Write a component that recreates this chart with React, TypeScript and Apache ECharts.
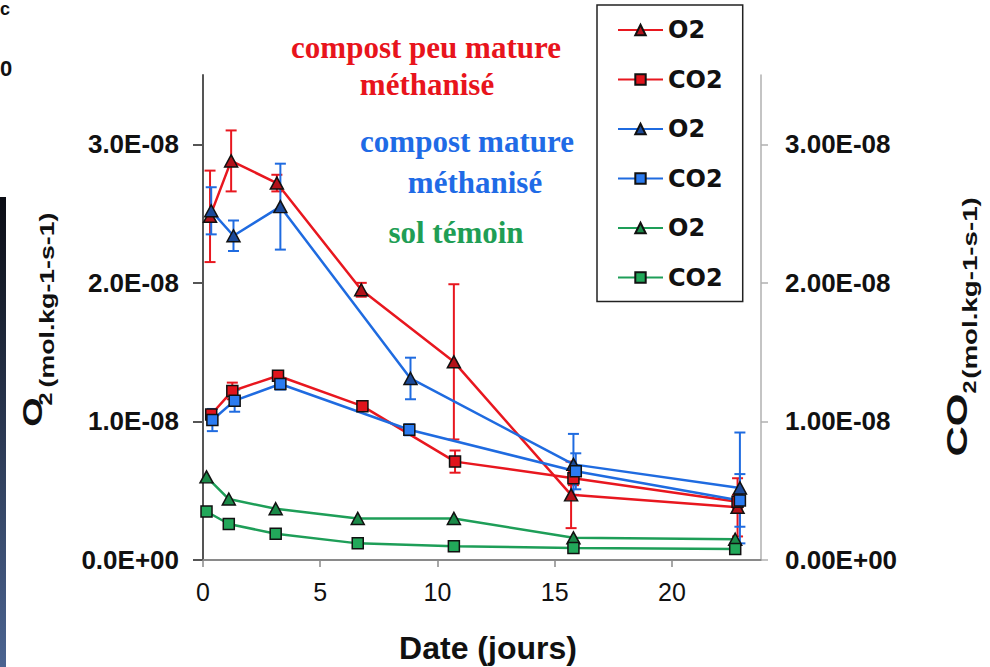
import React, { useEffect, useRef } from "react";
import * as echarts from "echarts";

const E = 1e-8;
const xTicks = [0, 5, 10, 15, 20];
const yTicks = [0, 1, 2, 3];

// compost peu mature méthanisé (red)
const redO2X = [0.3, 1.2, 3.15, 6.75, 10.7, 15.7, 22.8];
const redO2 = [2.48, 2.88, 2.72, 1.95, 1.43, 0.47, 0.38];
const redO2Err = [0.33, 0.22, 0.06, 0.05, 0.56, 0.24, 0.21];
const redCO2X = [0.35, 1.25, 3.2, 6.8, 10.75, 15.8, 22.8];
const redCO2 = [1.05, 1.22, 1.33, 1.11, 0.71, 0.59, 0.42];
const redCO2Err = [0.03, 0.06, 0.03, 0.02, 0.08, 0.05, 0.05];

// compost mature méthanisé (blue)
const blueO2X = [0.35, 1.3, 3.3, 8.85, 15.8, 22.9];
const blueO2 = [2.52, 2.34, 2.55, 1.31, 0.69, 0.52];
const blueO2Err = [0.17, 0.11, 0.31, 0.15, 0.22, 0.4];
const blueCO2X = [0.4, 1.35, 3.3, 8.8, 15.9, 22.9];
const blueCO2 = [1.01, 1.15, 1.27, 0.94, 0.64, 0.43];
const blueCO2Err = [0.08, 0.08, 0.04, 0.04, 0.13, 0.19];

// sol témoin (green)
const greenX = [0.15, 1.1, 3.1, 6.6, 10.7, 15.8, 22.7];
const greenO2 = [0.6, 0.44, 0.37, 0.3, 0.3, 0.16, 0.15];
const greenCO2 = [0.35, 0.26, 0.19, 0.12, 0.1, 0.087, 0.08];

const legendNames = ["O2", "CO2", "O2 ", "CO2 ", "O2  ", "CO2  "];

const RED = "#e8171f";
const BLUE = "#1f6be0";
const GREEN = "#1e9e58";

function lineSeries(name: string, xs: number[], ys: number[], color: string, symbol: string, fill: string, yAxisIndex: number) {
  return {
    type: "line",
    name,
    yAxisIndex,
    data: xs.map((x, i) => [x, ys[i] * E]),
    symbol,
    symbolSize: symbol === "triangle" ? [13, 12] : 11,
    showSymbol: true,
    lineStyle: { color, width: 2.5 },
    itemStyle: { color: fill, borderColor: "#111", borderWidth: 1.5 },
    z: 3,
    emphasis: { disabled: true },
    silent: true,
  };
}

function errSeries(xs: number[], ys: number[], errs: number[], color: string, yAxisIndex: number) {
  return {
    type: "custom",
    yAxisIndex,
    z: 2,
    silent: true,
    data: xs.map((x, i) => [x, (ys[i] - errs[i]) * E, (ys[i] + errs[i]) * E]),
    encode: { x: 0, y: [1, 2] },
    renderItem: (params: any, api: any) => {
      const x = api.value(0);
      const lo = api.coord([x, api.value(1)]);
      const hi = api.coord([x, api.value(2)]);
      const w = 5.5;
      const st = { stroke: color, lineWidth: 2 };
      return {
        type: "group",
        children: [
          { type: "line", shape: { x1: lo[0], y1: lo[1], x2: hi[0], y2: hi[1] }, style: st },
          { type: "line", shape: { x1: lo[0] - w, y1: lo[1], x2: lo[0] + w, y2: lo[1] }, style: st },
          { type: "line", shape: { x1: hi[0] - w, y1: hi[1], x2: hi[0] + w, y2: hi[1] }, style: st },
        ],
      };
    },
  };
}

function fmt(v: number, digits: number) {
  const m = v / E;
  if (Math.abs(m) < 1e-9) return (0).toFixed(digits) + "E+00";
  return m.toFixed(digits) + "E-08";
}

export default function App() {
  const ref = useRef<HTMLDivElement>(null);
  useEffect(() => {
    if (!ref.current) return;
    const chart = echarts.init(ref.current, null, { renderer: "svg" });
    const sans = "Liberation Sans";
    const serif = "Liberation Serif";
    const tickVals = yTicks.map((t) => t * E);
    const rot = (text: string, x: number, y: number, size: number, stretch: number) => ({
      type: "text",
      x,
      y,
      rotation: Math.PI / 2,
      scaleX: stretch,
      style: { text, font: `bold ${size}px ${sans}`, fill: "#111", align: "center", verticalAlign: "middle" },
      silent: true,
    });
    const option: any = {
      animation: false,
      backgroundColor: "#fff",
      grid: { left: 203, right: 229, top: 75, bottom: 107, containLabel: false },
      xAxis: {
        type: "value",
        min: 0,
        max: 23.8,
        interval: 5,
        axisLine: { show: true, lineStyle: { color: "#8a8a8a", width: 2 } },
        axisTick: { show: true, length: 7, lineStyle: { color: "#8a8a8a", width: 1.5 }, customValues: xTicks },
        axisLabel: { fontFamily: sans, fontSize: 25, color: "#111", margin: 19, customValues: xTicks },
        splitLine: { show: false },
      },
      yAxis: [
        {
          type: "value",
          min: 0,
          max: 3.5 * E,
          interval: E,
          position: "left",
          axisLine: { show: true, lineStyle: { color: "#555", width: 2 } },
          axisTick: { show: true, length: 10, lineStyle: { color: "#555", width: 2 }, customValues: tickVals },
          axisLabel: {
            fontFamily: sans,
            fontWeight: "bold",
            fontSize: 26,
            color: "#111",
            margin: 24,
            customValues: tickVals,
            formatter: (v: number) => fmt(v, 1),
          },
          splitLine: { show: false },
        },
        {
          type: "value",
          min: 0,
          max: 3.5 * E,
          interval: E,
          position: "right",
          axisLine: { show: true, lineStyle: { color: "#b0b0b0", width: 1.5 } },
          axisTick: { show: true, length: 7, lineStyle: { color: "#b0b0b0", width: 1.5 }, customValues: tickVals },
          axisLabel: {
            fontFamily: sans,
            fontWeight: "bold",
            fontSize: 26,
            color: "#111",
            margin: 24,
            customValues: tickVals,
            formatter: (v: number) => fmt(v, 2),
          },
          splitLine: { show: false },
        },
      ],
      legend: {
        orient: "vertical",
        left: 597,
        top: 5,
        padding: [13, 20, 12, 20],
        itemGap: 25.5,
        itemWidth: 45,
        itemHeight: 13,
        borderColor: "#222",
        borderWidth: 1.5,
        backgroundColor: "#fff",
        selectedMode: false,
        textStyle: { fontFamily: "DejaVu Sans", fontWeight: "bold", fontSize: 24, lineHeight: 24, color: "#111" },
        formatter: (n: string) => n.trim(),
        data: legendNames,
      },
      series: [
        errSeries(redO2X, redO2, redO2Err, RED, 0),
        errSeries(redCO2X, redCO2, redCO2Err, RED, 1),
        errSeries(blueO2X, blueO2, blueO2Err, BLUE, 0),
        errSeries(blueCO2X, blueCO2, blueCO2Err, BLUE, 1),
        lineSeries(legendNames[0], redO2X, redO2, RED, "triangle", "#b3121a", 0),
        lineSeries(legendNames[1], redCO2X, redCO2, RED, "rect", "#e0141c", 1),
        lineSeries(legendNames[2], blueO2X, blueO2, BLUE, "triangle", "#1b4a9a", 0),
        lineSeries(legendNames[3], blueCO2X, blueCO2, BLUE, "rect", "#2b7bf0", 1),
        lineSeries(legendNames[4], greenX, greenO2, GREEN, "triangle", "#1a8a48", 0),
        lineSeries(legendNames[5], greenX, greenCO2, GREEN, "rect", "#22a85a", 1),
      ],
      graphic: [
        {
          type: "rect",
          left: 0,
          top: 197,
          shape: { width: 6, height: 470 },
          style: {
            fill: new echarts.graphic.LinearGradient(0, 0, 0, 1, [
              { offset: 0, color: "#0b0d14" },
              { offset: 1, color: "#4b6491" },
            ]),
          },
          silent: true,
        },
        { type: "text", x: 0, y: 0, style: { text: "c", fontSize: 18, fontWeight: "bold", fontFamily: sans, fill: "#111" }, silent: true },
        { type: "text", x: 0, y: 57, style: { text: "0", fontSize: 22, fontWeight: "bold", fontFamily: sans, fill: "#111" }, silent: true },
        // annotations
        { type: "text", x: 426, y: 47, style: { text: "compost peu mature", font: `bold 31px ${serif}`, fill: "#e8141c", align: "center", verticalAlign: "middle" }, silent: true },
        { type: "text", x: 427, y: 84, style: { text: "méthanisé", font: `bold 31px ${serif}`, fill: "#e8141c", align: "center", verticalAlign: "middle" }, silent: true },
        { type: "text", x: 467, y: 141, style: { text: "compost mature", font: `bold 31px ${serif}`, fill: "#1f6be6", align: "center", verticalAlign: "middle" }, silent: true },
        { type: "text", x: 475, y: 182, style: { text: "méthanisé", font: `bold 31px ${serif}`, fill: "#1f6be6", align: "center", verticalAlign: "middle" }, silent: true },
        { type: "text", x: 456, y: 232, style: { text: "sol témoin", font: `bold 31px ${serif}`, fill: "#1f9e55", align: "center", verticalAlign: "middle" }, silent: true },
        // x axis title
        { type: "text", x: 488, y: 648, style: { text: "Date (jours)", font: `bold 32px ${sans}`, fill: "#111", align: "center", verticalAlign: "middle" }, silent: true },
        // left axis title
        rot("O", 32, 412, 28, 1.35),
        rot("2", 46, 399, 18, 1.3),
        rot("(mol.kg-1-s-1)", 47, 300, 21, 1.27),
        // right axis title
        rot("CO", 957, 425, 29, 1.45),
        rot("2", 970, 387, 18, 1.3),
        rot("(mol.kg-1-s-1)", 970, 288, 21, 1.32),
      ],
    };
    chart.setOption(option);
    return () => chart.dispose();
  }, []);
  return (
    <div
      ref={ref}
      style={{ position: "fixed", left: 0, top: 0, width: 990, height: 667, background: "#fff" }}
    />
  );
}
